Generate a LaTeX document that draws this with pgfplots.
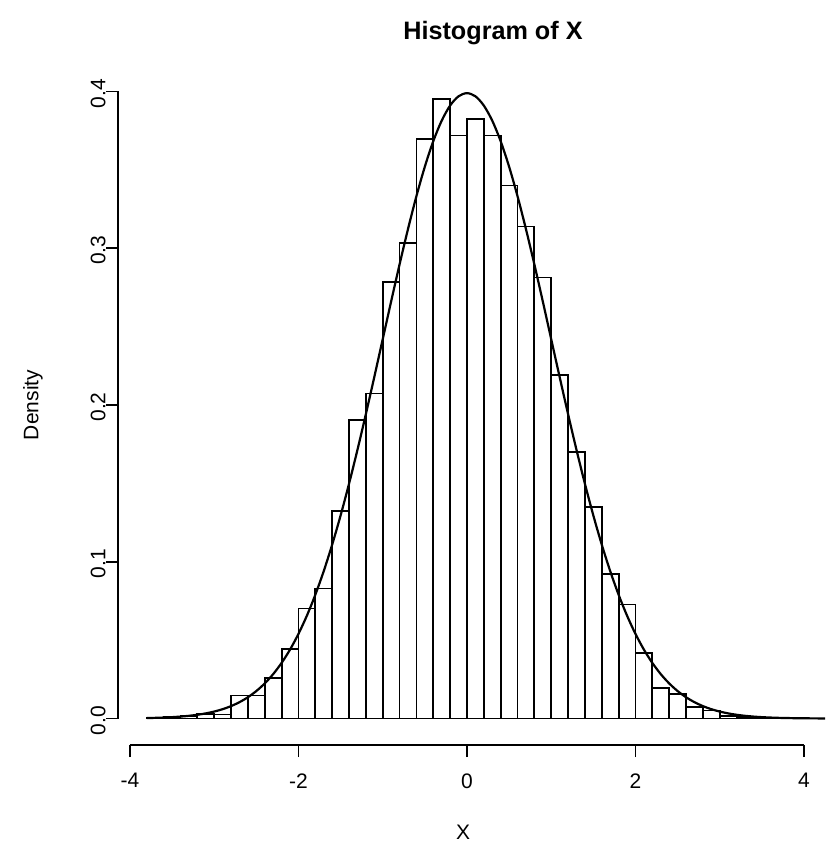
\documentclass[border=0pt]{standalone}
\usepackage{fontspec}
\setmainfont{Liberation Sans}
\usepackage{pgfplots}
\pgfplotsset{compat=1.18}
\begin{document}
\fontsize{10.5}{12}\selectfont
\begin{tikzpicture}
\useasboundingbox (-59pt,-50pt) rectangle (353.5pt,372.5pt);
\begin{axis}[
  at={(0,0)}, anchor=south west,
  x=42.125pt, y=783.75pt,
  xmin=-4.142, xmax=4.25, ymin=-0.0169, ymax=0.4163,
  axis lines=left, axis line style={draw=none},
  xtick={-4,-2,0,2,4}, xticklabels={-4,-2,0,2,4},
  ytick={0,0.1,0.2,0.3,0.4}, yticklabels={0.0,0.1,0.2,0.3,0.4},
  minor tick num=0,
  tick align=outside, major tick length=6pt,
  tick style={black, line width=0.8pt},
  xticklabel style={anchor=north, inner sep=0pt, yshift=-8pt, font=\fontsize{10.5}{12}\selectfont},
  yticklabel style={rotate=90, anchor=south, inner sep=0pt, xshift=-1pt, font=\fontsize{10.5}{12}\selectfont},
  clip mode=individual,
]
\draw[line width=0.8pt] (axis cs:-4,-0.0169) -- (axis cs:4,-0.0169);
\draw[line width=0.8pt] (axis cs:-4.142,0) -- (axis cs:-4.142,0.4);
\addplot[ybar interval, draw=black, fill=none, line width=0.9pt, mark=none] coordinates {
(-3.8,0.0005) (-3.6,0.0008) (-3.4,0.0015) (-3.2,0.003) (-3.0,0.0025)
(-2.8,0.0147) (-2.6,0.0147) (-2.4,0.026) (-2.2,0.0445) (-2.0,0.0702)
(-1.8,0.0829) (-1.6,0.1323) (-1.4,0.1906) (-1.2,0.2073) (-1.0,0.2786)
(-0.8,0.3035) (-0.6,0.3698) (-0.4,0.3953) (-0.2,0.3719) (0.0,0.3826)
(0.2,0.3719) (0.4,0.340) (0.6,0.3139) (0.8,0.2813) (1.0,0.2193)
(1.2,0.1699) (1.4,0.1350) (1.6,0.0923) (1.8,0.0727) (2.0,0.0417)
(2.2,0.0196) (2.4,0.0158) (2.6,0.0072) (2.8,0.0051) (3.0,0.0015)
(3.2,0.0008) (3.4,0.0005) (3.6,0.0002) (3.8,0) (4.0,0)
};
\addplot[black, line width=1.1pt, mark=none, smooth] coordinates {
(-3.8,0.00029) (-3.7,0.00042) (-3.6,0.00061) (-3.5,0.00087) (-3.4,0.00123)
(-3.3,0.00172) (-3.2,0.00238) (-3.1,0.00327) (-3.0,0.00443) (-2.9,0.00595)
(-2.8,0.00792) (-2.7,0.01042) (-2.6,0.01358) (-2.5,0.01753) (-2.4,0.02239)
(-2.3,0.02833) (-2.2,0.03547) (-2.1,0.04398) (-2.0,0.05399) (-1.9,0.06562)
(-1.8,0.07895) (-1.7,0.09405) (-1.6,0.11092) (-1.5,0.12952) (-1.4,0.14973)
(-1.3,0.17137) (-1.2,0.19419) (-1.1,0.21785) (-1.0,0.24197) (-0.9,0.26609)
(-0.8,0.28969) (-0.7,0.31225) (-0.6,0.33322) (-0.5,0.35207) (-0.4,0.36827)
(-0.3,0.38139) (-0.2,0.39104) (-0.1,0.39695) (0.0,0.39894) (0.1,0.39695)
(0.2,0.39104) (0.3,0.38139) (0.4,0.36827) (0.5,0.35207) (0.6,0.33322)
(0.7,0.31225) (0.8,0.28969) (0.9,0.26609) (1.0,0.24197) (1.1,0.21785)
(1.2,0.19419) (1.3,0.17137) (1.4,0.14973) (1.5,0.12952) (1.6,0.11092)
(1.7,0.09405) (1.8,0.07895) (1.9,0.06562) (2.0,0.05399) (2.1,0.04398)
(2.2,0.03547) (2.3,0.02833) (2.4,0.02239) (2.5,0.01753) (2.6,0.01358)
(2.7,0.01042) (2.8,0.00792) (2.9,0.00595) (3.0,0.00443) (3.1,0.00327)
(3.2,0.00238) (3.3,0.00172) (3.4,0.00123) (3.5,0.00087) (3.6,0.00061)
(3.7,0.00042) (3.8,0.00029) (3.9,0.00020) (4.0,0.00013) (4.1,0.00009)
(4.2,0.00006) (4.25,0.00005)
};
\end{axis}
\node[font=\bfseries\fontsize{12.6}{14}\selectfont] at (187.5pt,356pt) {Histogram of X};
\node[rotate=90] at (-42.5pt,170pt) {Density};
\node at (172.5pt,-43.5pt) {X};
\end{tikzpicture}
\end{document}
